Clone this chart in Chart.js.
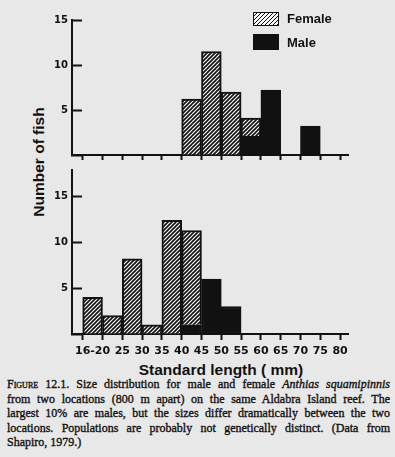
<!DOCTYPE html>
<html>
<head>
<meta charset="utf-8">
<script src="https://cdn.jsdelivr.net/npm/chart.js@4.4.1/dist/chart.umd.min.js"></script>
<style>
  html, body { margin: 0; padding: 0; }
  body {
    width: 395px; height: 457px; position: relative; overflow: hidden;
    background: #e8e8e8; color: #111;
    font-family: "Liberation Sans", Arial, sans-serif;
  }
  #top { position: absolute; left: 0; top: 0; z-index: 2; }
  #bottom { position: absolute; left: 0; top: 150px; z-index: 1; }
  .key { position: absolute; left: 253px; width: 24px; border: 1px solid #111; z-index: 3; }
  .key.f { top: 12px; height: 12px; background: repeating-linear-gradient(-45deg, #111 0 1.3px, #f6f6f6 1.3px 2.83px); }
  .key.m { top: 34px; height: 14px; background: #111; }
  .keytext { position: absolute; left: 287px; font-weight: bold; font-size: 13px; line-height: 16px; z-index: 3; }
  #ytitle {
    position: absolute; left: -41px; top: 153px; width: 160px; line-height: 18px;
    text-align: center; font-weight: bold; font-size: 15.5px; transform: rotate(-90deg);
  }
  #xtitle {
    position: absolute; left: 121px; top: 361px; width: 200px; line-height: 18px;
    text-align: center; font-weight: bold; font-size: 15.5px; white-space: nowrap;
  }
  #caption {
    position: absolute; left: 7px; top: 377px; width: 383px;
    font-family: "Liberation Serif", "DejaVu Serif", serif; font-size: 12px; line-height: 14.5px;
    -webkit-text-stroke: 0.35px #111;
  }
  #caption .l { text-align: justify; text-align-last: justify; }
  .sc { font-variant: small-caps; }
</style>
</head>
<body>
<canvas id="top" width="395" height="175"></canvas>
<canvas id="bottom" width="395" height="212"></canvas>

<div class="key f"></div><div class="keytext" style="top:11px">Female</div>
<div class="key m"></div><div class="keytext" style="top:35px">Male</div>
<div id="ytitle">Number of fish</div>
<div id="xtitle">Standard length ( mm)</div>

<div id="caption">
  <div class="l"><span class="sc">Figure</span> 12.1. Size distribution for male and female <i>Anthias squamipinnis</i></div>
  <div class="l">from two locations (800 m apart) on the same Aldabra Island reef. The</div>
  <div class="l">largest 10% are males, but the sizes differ dramatically between the two</div>
  <div class="l">locations. Populations are probably not genetically distinct. (Data from</div>
  <div>Shapiro, 1979.)</div>
</div>

<script>
// size classes, 5 mm wide (first one is 16-20)
const binCenters = [17.5, 22.5, 27.5, 32.5, 37.5, 42.5, 47.5, 52.5, 57.5, 62.5, 67.5, 72.5, 77.5];

// upper panel
const topFemale = [null, null, null, null, null, 6.2, 11.5, 7.0, 2.0, null, null, null, null];
const topMale   = [null, null, null, null, null, null, null, null, 2.1, 7.2, null, 3.2, null];

// lower panel
const bottomFemale = [4.0, 2.0, 8.2, 1.0, 12.4, 10.3, null, null, null, null, null, null, null];
const bottomMale   = [null, null, null, null, null, 1.0, 6.0, 3.0, null, null, null, null, null];

// x ticks (17.5 only carries the "16-20" label, no mark)
const xTickValues = [15, 17.5, 20, 25, 30, 35, 40, 45, 50, 55, 60, 65, 70, 75, 80];
const xTickLabels = ['', '16-20', '', '25', '30', '35', '40', '45', '50', '55', '60', '65', '70', '75', '80'];

const ink = '#111';

function hatch() {
  const s = 4;
  const c = document.createElement('canvas');
  c.width = s; c.height = s;
  const g = c.getContext('2d');
  g.fillStyle = '#f6f6f6';
  g.fillRect(0, 0, s, s);
  g.strokeStyle = ink;
  g.lineWidth = 1.6;
  g.beginPath();
  g.moveTo(0, s); g.lineTo(s, 0);
  g.moveTo(-1, 1); g.lineTo(1, -1);
  g.moveTo(s - 1, s + 1); g.lineTo(s + 1, s - 1);
  g.stroke();
  return g.createPattern(c, 'repeat');
}
const hatchFill = hatch();

function series(label, values, fill) {
  return {
    label: label,
    data: binCenters.map((x, i) => ({ x: x, y: values[i] })),
    backgroundColor: fill,
    borderColor: ink,
    borderWidth: 2,
    barThickness: 'flex',
    barPercentage: 1,
    categoryPercentage: 1
  };
}

function xAxis(withLabels) {
  return {
    type: 'linear',
    min: 12.3,
    max: 82,
    offset: false,
    stacked: true,
    afterBuildTicks: s => { s.ticks = xTickValues.map(v => ({ value: v })); },
    afterFit: s => { s.height = withLabels ? 28 : 13; },
    border: { color: ink, width: 2 },
    grid: {
      offset: false,
      drawOnChartArea: false,
      tickLength: withLabels ? 6 : 5,
      tickWidth: 2,
      tickColor: c => (c.tick && c.tick.value === 17.5) ? 'rgba(0,0,0,0)' : ink
    },
    ticks: {
      display: withLabels,
      autoSkip: false,
      maxRotation: 0,
      padding: 5,
      color: ink,
      font: { family: 'DejaVu Sans', size: 11, weight: 'bold' },
      callback: (v, i) => xTickLabels[i]
    }
  };
}

function yAxis(max) {
  return {
    min: 0,
    max: max,
    stacked: true,
    afterFit: s => { s.width = 72; },
    border: { color: ink, width: 2 },
    grid: { drawOnChartArea: false, tickLength: -10, tickWidth: 2, tickColor: ink },
    ticks: {
      stepSize: 5,
      includeBounds: false,
      padding: 14,
      color: ink,
      font: { family: 'DejaVu Sans', size: 10, weight: 'bold' },
      callback: v => v === 0 ? '' : v
    }
  };
}

function panel(id, female, male, ymax, withLabels, padTop) {
  return new Chart(document.getElementById(id), {
    type: 'bar',
    data: {
      datasets: [series('Male', male, ink), series('Female', female, hatchFill)]
    },
    options: {
      responsive: false,
      animation: false,
      layout: { padding: { top: padTop, right: 47, left: 0, bottom: 0 } },
      plugins: { legend: { display: false }, tooltip: { enabled: false } },
      scales: { x: xAxis(withLabels), y: yAxis(ymax) }
    }
  });
}

panel('top', topFemale, topMale, 15, false, 15);
panel('bottom', bottomFemale, bottomMale, 17.9, true, 12);
</script>
</body>
</html>
